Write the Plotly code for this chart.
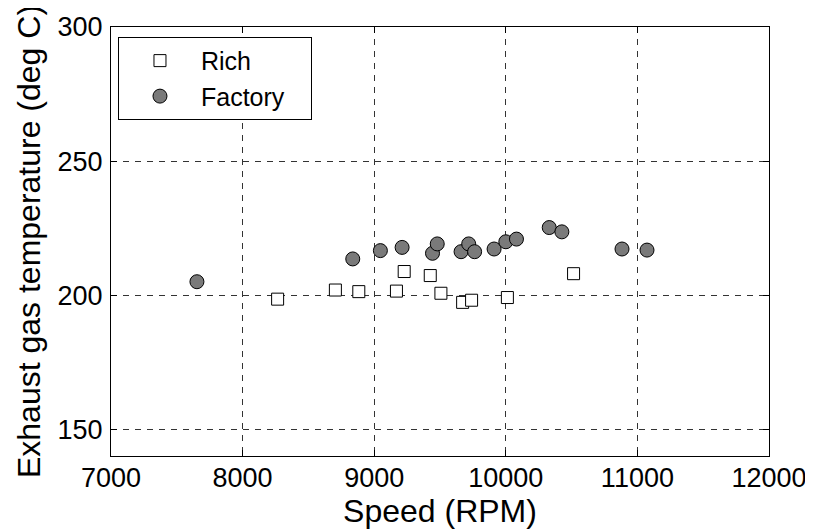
import plotly.graph_objects as go

rich_rpm = [8266, 8705, 8883, 9169, 9228, 9426, 9507, 9672, 9740, 10012, 10515]
rich_temp = [198.5, 201.9, 201.3, 201.5, 208.8, 207.3, 200.7, 197.3, 198.1, 199.1, 208.0]

factory_rpm = [7653, 8837, 9047, 9212, 9443, 9479, 9660, 9718, 9763, 9911, 10000,
               10081, 10330, 10426, 10883, 11073]
factory_temp = [205.0, 213.5, 216.6, 217.8, 215.6, 219.1, 216.2, 219.1, 216.2, 217.2,
                219.9, 220.9, 225.2, 223.6, 217.2, 216.8]

x_ticks = [7000, 8000, 9000, 10000, 11000, 12000]
x_labels = ["7000", "8000", "9000", "10000", "11000", "12000"]
y_ticks = [150, 200, 250, 300]
y_labels = ["150", "200", "250", "300"]

FONT = "Liberation Sans, Arial, sans-serif"
NB = "\u00a0\u00a0\u00a0"

fig = go.Figure()
fig.add_trace(go.Scatter(
    x=rich_rpm, y=rich_temp, mode="markers", name="Rich" + NB,
    marker=dict(symbol="square", size=12, color="white",
                line=dict(color="black", width=1)),
))
fig.add_trace(go.Scatter(
    x=factory_rpm, y=factory_temp, mode="markers", name="Factory" + NB,
    marker=dict(symbol="circle", size=14, color="#7a7a7a",
                line=dict(color="black", width=1)),
))

axis_common = dict(
    showline=True, linecolor="black", linewidth=1, mirror="allticks",
    ticks="inside", ticklen=6, tickcolor="black", tickwidth=1,
    showgrid=True, gridcolor="#333333", gridwidth=0.8, griddash="6px,6px",
    zeroline=False, automargin=False,
    tickfont=dict(family=FONT, size=27, color="black"),
)

fig.update_xaxes(range=[7000, 12000], tickvals=x_ticks, ticktext=x_labels,
                 ticklabelstandoff=-2,
                 title=dict(text="Speed (RPM)", font=dict(family=FONT, size=32, color="black"),
                            standoff=0),
                 **axis_common)
fig.update_yaxes(range=[140, 300], tickvals=y_ticks, ticktext=y_labels,
                 ticklabelstandoff=2,
                 title=dict(text="Exhaust gas temperature (deg C)",
                            font=dict(family=FONT, size=32, color="black"), standoff=7),
                 **axis_common)

fig.update_layout(
    width=805, height=521,
    margin=dict(l=103, r=44, t=19, b=73),
    paper_bgcolor="white", plot_bgcolor="white",
    font=dict(family=FONT, size=27, color="black"),
    showlegend=True,
    legend=dict(x=0.0106, y=0.977, xanchor="left", yanchor="top",
                bgcolor="white", bordercolor="black", borderwidth=1,
                font=dict(family=FONT, size=25, color="black"),
                itemwidth=72),
)

fig.write_html("out.html")
